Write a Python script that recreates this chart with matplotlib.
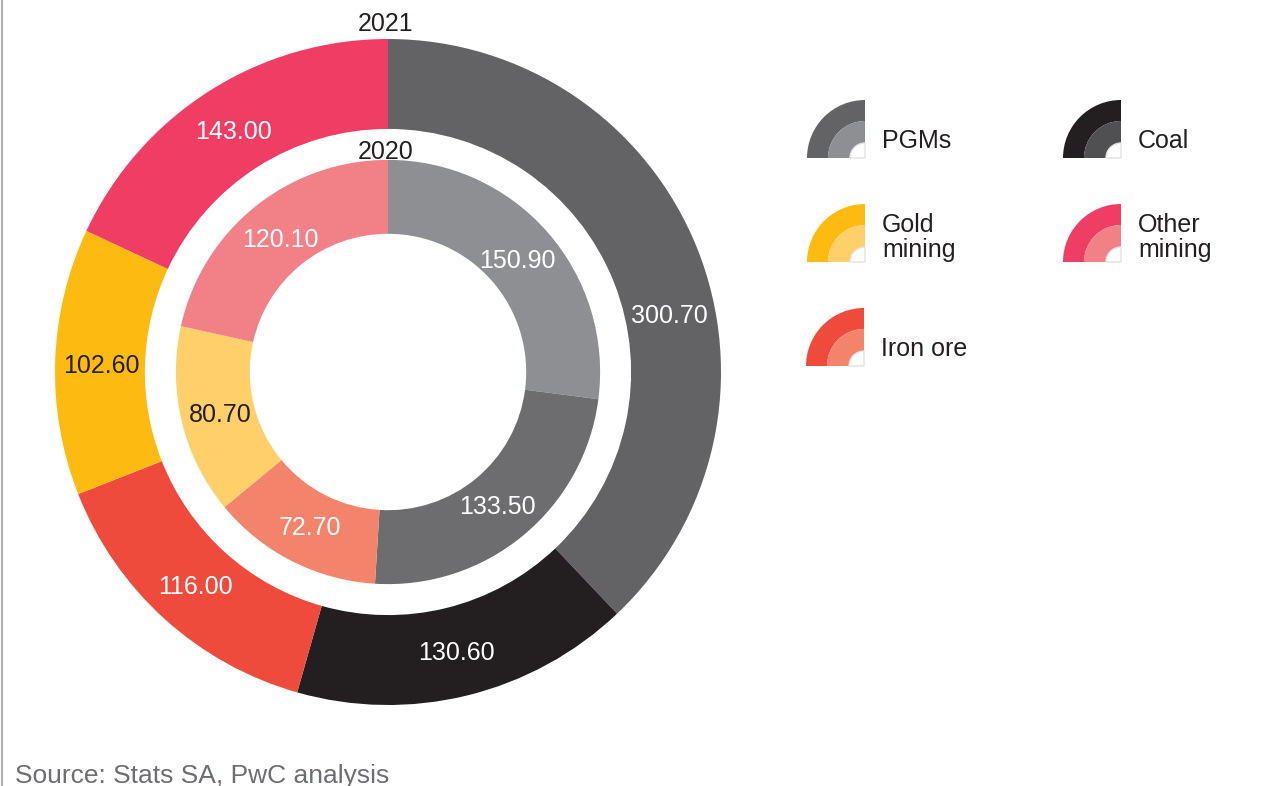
import matplotlib.pyplot as plt
from matplotlib.patches import Wedge
import numpy as np

plt.rcParams['font.family'] = ['Liberation Sans', 'DejaVu Sans']

# data
sectors = ['PGMs', 'Coal', 'Iron ore', 'Gold\nmining', 'Other\nmining']
vals_2021 = [300.70, 130.60, 116.00, 102.60, 143.00]
vals_2020 = [150.90, 133.50, 72.70, 80.70, 120.10]
outer_cols = ['#636365', '#231f20', '#ef4b3d', '#fdbb12', '#f03d64']
inner_cols = ['#8e8f93', '#6d6d6f', '#f3836b', '#ffd06a', '#f18087']
legend_inner = ['#8e8f93', '#505052', '#f3836b', '#ffd06a', '#f18087']
txt_cols = ['white', 'white', 'white', '#231f20', 'white']

W, H = 1261, 786
fig = plt.figure(figsize=(W / 100, H / 100), dpi=100)

cx, cy, R = 388, 372, 333
ax = fig.add_axes([(cx - R) / W, (H - cy - R) / H, 2 * R / W, 2 * R / H])

w_out, _ = ax.pie(vals_2021, radius=1.0, startangle=90, counterclock=False,
                  colors=outer_cols, wedgeprops=dict(width=0.27, linewidth=0))
w_in, _ = ax.pie(vals_2020, radius=0.637, startangle=90, counterclock=False,
                 colors=inner_cols, wedgeprops=dict(width=0.222, linewidth=0))
ax.set_xlim(-1, 1)
ax.set_ylim(-1, 1)

# value labels at mid angle of each wedge
shift_out = [-10, 0, 0, 0, 0]
for i, w in enumerate(w_out):
    a = np.deg2rad((w.theta1 + w.theta2) / 2 + shift_out[i])
    ax.text(0.862 * np.cos(a), 0.862 * np.sin(a), '%.2f' % vals_2021[i], color=txt_cols[i],
            fontsize=18, ha='center', va='center_baseline')
for i, w in enumerate(w_in):
    a = np.deg2rad((w.theta1 + w.theta2) / 2)
    ax.text(0.517 * np.cos(a), 0.517 * np.sin(a), '%.2f' % vals_2020[i], color=txt_cols[i],
            fontsize=18, ha='center', va='center_baseline')

ax.text(-0.006, 1.052, '2021', fontsize=18, ha='center', va='center_baseline', color='#231f20')
ax.text(-0.006, 0.667, '2020', fontsize=18, ha='center', va='center_baseline', color='#231f20')

# overlay in pixel units for legend and source
ov = fig.add_axes([0, 0, 1, 1])
ov.set_xlim(0, W)
ov.set_ylim(0, H)
ov.axis('off')

icon_pos = [(865, 158), (1121, 158), (864, 366), (865, 262), (1121, 262)]
for i, name in enumerate(sectors):
    x, y = icon_pos[i]
    y = H - y
    ov.add_patch(Wedge((x, y), 58, 90, 180, width=21, facecolor=outer_cols[i], lw=0))
    ov.add_patch(Wedge((x, y), 37, 90, 180, width=22, facecolor=legend_inner[i], lw=0))
    ov.add_patch(Wedge((x, y), 15, 90, 180, facecolor='white', edgecolor='#e2e2e2', lw=1))
    lines = name.split('\n')
    offs = [19] if len(lines) == 1 else [39, 14]
    for ln, o in zip(lines, offs):
        ov.text(x + 17, y + o, ln, fontsize=18, ha='left', va='center_baseline',
                color='#231f20')

ov.text(15, H - 773, 'Source: Stats SA, PwC analysis', fontsize=19, color='#6d6e71',
        ha='left', va='center_baseline')
ov.plot([2, 2], [0, H], color='#b0b0b0', lw=1.5)

fig.savefig('out.png', dpi=100)
